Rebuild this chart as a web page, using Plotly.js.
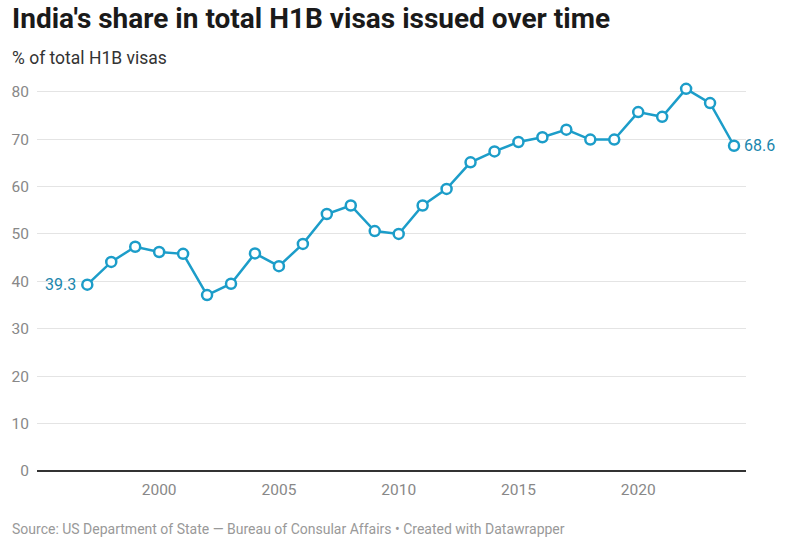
<!DOCTYPE html>
<html>
<head>
<meta charset="utf-8">
<script src="https://cdn.plot.ly/plotly-3.0.1.min.js"></script>
<style>
  body { margin: 0; background: #fff; }
  #chart { width: 789px; height: 540px; }
</style>
</head>
<body>
<div id="chart"></div>
<script>
var years = [1997, 1998, 1999, 2000, 2001, 2002, 2003, 2004, 2005, 2006,
             2007, 2008, 2009, 2010, 2011, 2012, 2013, 2014, 2015, 2016,
             2017, 2018, 2019, 2020, 2021, 2022, 2023, 2024];
var share = [39.3, 44.1, 47.3, 46.2, 45.8, 37.1, 39.5, 45.9, 43.2, 47.9,
             54.2, 56.0, 50.6, 50.0, 56.0, 59.5, 65.1, 67.4, 69.4, 70.4,
             72.0, 69.9, 69.9, 75.7, 74.7, 80.6, 77.6, 68.6];
var xTicks = [2000, 2005, 2010, 2015, 2020];
var yTicks = [0, 10, 20, 30, 40, 50, 60, 70, 80];

var lineColor = '#1c9dc9';
var labelColor = '#1a86ad';

var trace = {
  x: years,
  y: share,
  type: 'scatter',
  mode: 'lines+markers',
  line: { color: lineColor, width: 2.5 },
  marker: {
    symbol: 'circle',
    size: 10,
    color: '#ffffff',
    line: { color: lineColor, width: 2.5 }
  },
  hoverinfo: 'x+y',
  showlegend: false
};

var last = years.length - 1;

var layout = {
  width: 789,
  height: 540,
  margin: { l: 37, r: 43, t: 68, b: 69 },
  paper_bgcolor: '#ffffff',
  plot_bgcolor: '#ffffff',
  font: { family: 'Roboto, sans-serif', color: '#333' },
  xaxis: {
    range: [1994.9, 2024.5],
    tickvals: xTicks,
    ticktext: xTicks.map(String),
    showgrid: false,
    zeroline: false,
    showline: false,
    ticks: '',
    ticklabelstandoff: 7,
    tickfont: { size: 15.5, color: '#888', family: 'Roboto, sans-serif' }
  },
  yaxis: {
    range: [0, 85],
    tickvals: yTicks,
    ticktext: yTicks.map(String),
    showgrid: true,
    gridcolor: '#e4e4e4',
    gridwidth: 1,
    zeroline: true,
    zerolinecolor: '#333333',
    zerolinewidth: 1.5,
    showline: false,
    ticks: '',
    ticklabelstandoff: 7,
    tickfont: { size: 15.5, color: '#888', family: 'Roboto, sans-serif' }
  },
  annotations: [
    {
      xref: 'paper', yref: 'paper', x: -0.038, y: 1.124,
      xanchor: 'left', yanchor: 'middle', showarrow: false,
      text: "<b>India's share in total H1B visas issued over time</b>",
      font: { size: 28, color: '#1a1a1a', family: 'Roboto, sans-serif' }
    },
    {
      xref: 'paper', yref: 'paper', x: -0.038, y: 1.025,
      xanchor: 'left', yanchor: 'middle', showarrow: false,
      text: '% of total H1B visas',
      font: { size: 17.5, color: '#333', family: 'Roboto, sans-serif' }
    },
    {
      xref: 'paper', yref: 'paper', x: -0.038, y: -0.143,
      xanchor: 'left', yanchor: 'middle', showarrow: false,
      text: 'Source: US Department of State — Bureau of Consular Affairs • Created with Datawrapper',
      font: { size: 14, color: '#999', family: 'Roboto, sans-serif' }
    },
    {
      x: years[0], y: share[0], xref: 'x', yref: 'y',
      xanchor: 'right', yanchor: 'middle', xshift: -9, showarrow: false,
      text: share[0].toFixed(1),
      font: { size: 16, color: labelColor, family: 'Roboto, sans-serif' }
    },
    {
      x: years[last], y: share[last], xref: 'x', yref: 'y',
      xanchor: 'left', yanchor: 'middle', xshift: 8, showarrow: false,
      text: share[last].toFixed(1),
      font: { size: 16, color: labelColor, family: 'Roboto, sans-serif' }
    }
  ]
};

Plotly.newPlot('chart', [trace], layout, { displayModeBar: false, responsive: false });
</script>
</body>
</html>
